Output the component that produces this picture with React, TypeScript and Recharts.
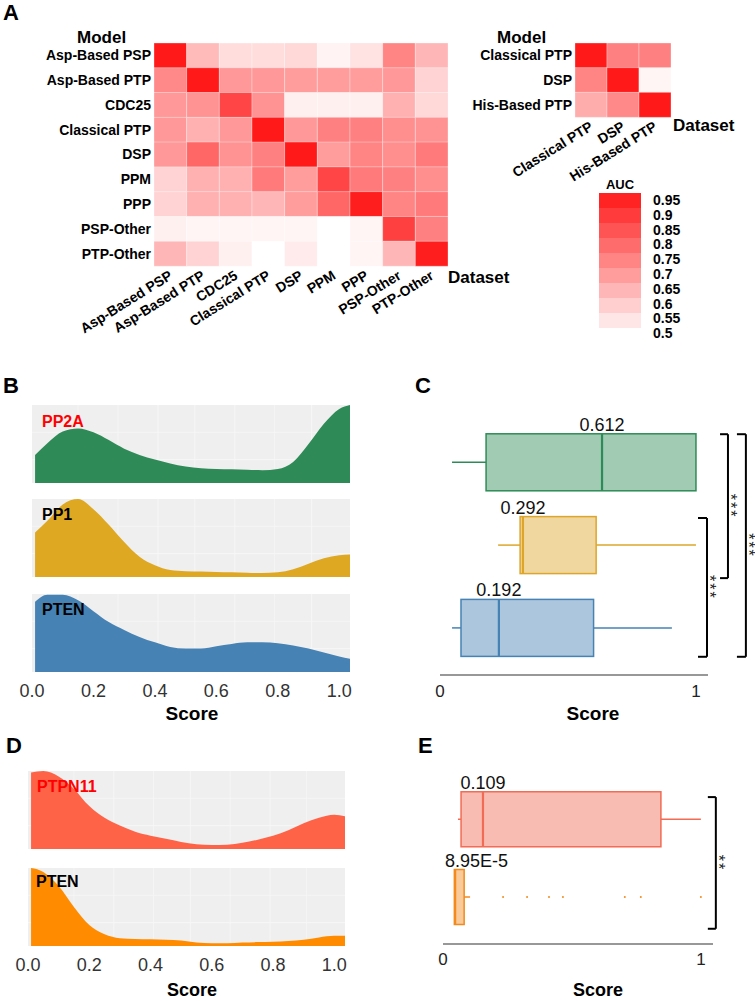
import React from "react";
import {
  BarChart,
  Bar,
  Cell,
  XAxis,
  YAxis,
  AreaChart,
  Area,
  CartesianGrid,
  ComposedChart,
  ReferenceLine,
} from "recharts";

const FONT = '"Liberation Sans", Arial, Helvetica, sans-serif';

// ---- panel A: cross-dataset AUC heatmaps
const modelsA = [
  "Asp-Based PSP",
  "Asp-Based PTP",
  "CDC25",
  "Classical PTP",
  "DSP",
  "PPM",
  "PPP",
  "PSP-Other",
  "PTP-Other",
];
const datasetsA = modelsA;
const aucA = [
  [0.97, 0.64, 0.57, 0.57, 0.58, 0.525, 0.56, 0.75, 0.65],
  [0.74, 0.97, 0.71, 0.71, 0.7, 0.7, 0.7, 0.71, 0.59],
  [0.71, 0.72, 0.88, 0.72, 0.53, 0.53, 0.53, 0.66, 0.58],
  [0.71, 0.66, 0.71, 0.97, 0.71, 0.76, 0.76, 0.73, 0.72],
  [0.71, 0.81, 0.72, 0.76, 0.97, 0.7, 0.75, 0.73, 0.77],
  [0.59, 0.66, 0.66, 0.77, 0.7, 0.88, 0.77, 0.76, 0.73],
  [0.59, 0.66, 0.66, 0.65, 0.7, 0.81, 0.96, 0.75, 0.77],
  [0.53, 0.52, 0.52, 0.52, 0.52, 0.5, 0.52, 0.89, 0.76],
  [0.65, 0.59, 0.53, 0.5, 0.54, 0.5, 0.52, 0.65, 0.96],
];
const modelsA2 = ["Classical PTP", "DSP", "His-Based PTP"];
const aucA2 = [
  [0.97, 0.76, 0.76],
  [0.75, 0.97, 0.52],
  [0.67, 0.74, 0.97],
];
const legendBlocks = [0.95, 0.9, 0.85, 0.8, 0.75, 0.7, 0.65, 0.6, 0.55];
const legendLabels = ["0.95", "0.9", "0.85", "0.8", "0.75", "0.7", "0.65", "0.6", "0.55", "0.5"];

// ---- panels B / D: score densities (scaled to panel height)
const scoreGrid = [0.01, 0.05, 0.1, 0.15, 0.2, 0.25, 0.3, 0.35, 0.4, 0.45, 0.5, 0.55, 0.6, 0.65, 0.7, 0.75, 0.8, 0.85, 0.9, 0.95, 1.0, 1.035];
const densPP2A = [0.36, 0.51, 0.66, 0.7, 0.65, 0.55, 0.44, 0.36, 0.3, 0.25, 0.21, 0.19, 0.18, 0.175, 0.17, 0.165, 0.18, 0.27, 0.5, 0.76, 0.95, 1.0];
const densPP1 = [0.57, 0.72, 0.93, 1.0, 0.87, 0.67, 0.45, 0.26, 0.15, 0.09, 0.075, 0.07, 0.065, 0.06, 0.055, 0.05, 0.06, 0.1, 0.17, 0.24, 0.28, 0.29];
const densPTENB = [0.9, 0.99, 0.99, 0.92, 0.78, 0.64, 0.54, 0.45, 0.38, 0.32, 0.3, 0.3, 0.33, 0.36, 0.38, 0.38, 0.37, 0.34, 0.3, 0.25, 0.2, 0.17];
const densPTPN11 = [0.98, 1.0, 0.93, 0.77, 0.55, 0.4, 0.3, 0.22, 0.17, 0.13, 0.09, 0.06, 0.05, 0.055, 0.08, 0.12, 0.17, 0.24, 0.33, 0.4, 0.44, 0.42];
const densPTEND = [1.0, 0.95, 0.77, 0.5, 0.27, 0.15, 0.1, 0.09, 0.085, 0.08, 0.07, 0.045, 0.035, 0.035, 0.045, 0.05, 0.055, 0.065, 0.08, 0.11, 0.13, 0.13];
const scoreTicks = [0, 0.2, 0.4, 0.6, 0.8, 1.0];
const ridgeGridX = [0.15, 0.28, 0.41, 0.53, 0.66, 0.79, 0.91];

// ---- panel C: boxplots (row 1 = top)
const groupsC = ["PP2A", "PP1", "PTEN"];
const posC = [1, 2, 3];
const minC = [0.047, 0.227, 0.047];
const q1C = [0.18, 0.313, 0.082];
const medianC = [0.633, 0.324, 0.23];
const q3C = [1.0, 0.61, 0.6];
const maxC = [1.0, 1.0, 0.906];
const medianLabelC = ["0.612", "0.292", "0.192"];
const strokeC = ["#2E8B57", "#DDA62A", "#4682B4"];

// ---- panel E: boxplots
const groupsE = ["PTPN11", "PTEN"];
const posE = [1, 2];
const minE = [0.058, 0.044];
const q1E = [0.07, 0.044];
const medianE = [0.155, 0.047];
const q3E = [0.845, 0.082];
const maxE = [1.0, 0.105];
const outliersE = [[], [0.233, 0.326, 0.411, 0.465, 0.705, 0.767, 1.0]];
const medianLabelE = ["0.109", "8.95E-5"];
const strokeE = ["#F26B55", "#F28A1E"];

// significance brackets (data units)
const bracketsC = [
  { x: 1.043, tick: 1.008, y1: 1.674, y2: 3.35, text: "***" },
  { x: 1.125, tick: 1.094, y1: 0.662, y2: 2.4, text: "***" },
  { x: 1.195, tick: 1.16, y1: 0.662, y2: 3.35, text: "***" },
];
const bracketsE = [{ x: 1.058, tick: 1.027, y1: 0.71, y2: 2.404, text: "**" }];

function aucColor(v: number) {
  const t = Math.max(0, Math.min(1, (v - 0.5) / 0.5));
  const g = Math.round(255 - t * 245);
  return `rgb(255,${g},${g})`;
}

const ColTick = (props: any) => {
  const { x, y, payload, cols } = props;
  const label = cols[Math.floor(payload.value)];
  return (
    <g transform={`translate(${x + 3},${y + 12})`}>
      <text textAnchor="end" transform="rotate(-32)" fontSize={14} fontWeight={700} fill="#000">
        {label}
      </text>
    </g>
  );
};

function Heatmap(props: any) {
  const { rows, cols, values, left, top, width, height, margin, yWidth } = props;
  const data = rows.map((r: string) => {
    const o: any = { model: r };
    cols.forEach((_: string, j: number) => (o["c" + j] = 1));
    return o;
  });
  const ticks = cols.map((_: string, j: number) => j + 0.5);
  return (
    <div style={{ position: "absolute", left, top }}>
      <BarChart width={width} height={height} data={data} layout="vertical" margin={margin} barCategoryGap={0}>
        <XAxis
          type="number"
          domain={[0, cols.length]}
          ticks={ticks}
          interval={0}
          axisLine={false}
          tickLine={false}
          tickSize={0}
          tickMargin={0}
          height={60}
          tick={<ColTick cols={cols} />}
        />
        <YAxis
          type="category"
          dataKey="model"
          width={yWidth}
          axisLine={false}
          tickLine={false}
          tickSize={0}
          tickMargin={3}
          interval={0}
          tick={{ fill: "#000", fontSize: 14, fontWeight: 700 }}
        />
        {cols.map((c: string, j: number) => (
          <Bar
            key={c}
            dataKey={"c" + j}
            stackId="h"
            isAnimationActive={false}
            stroke="#ffffff"
            strokeOpacity={0.5}
            strokeWidth={0.6}
          >
            {rows.map((r: string, i: number) => (
              <Cell key={r} fill={aucColor(values[i][j])} />
            ))}
          </Bar>
        ))}
      </BarChart>
    </div>
  );
}

const ridgeData = scoreGrid.map((s, i) => ({
  score: s,
  pp2a: densPP2A[i],
  pp1: densPP1[i],
  ptenB: densPTENB[i],
  ptpn11: densPTPN11[i],
  ptenD: densPTEND[i],
}));

function Ridge(props: any) {
  const { dataKey, color, left, top, width, marginLeft, marginRight, showAxis } = props;
  const plotH = 78;
  return (
    <div style={{ position: "absolute", left, top }}>
      <AreaChart
        width={width}
        height={plotH + (showAxis ? 34 : 0)}
        data={ridgeData}
        margin={{ top: 0, right: marginRight, bottom: 0, left: marginLeft }}
      >
        <CartesianGrid
          fill="#EFEFEF"
          fillOpacity={1}
          stroke="#F8F8F8"
          strokeWidth={0.8}
          verticalValues={ridgeGridX}
          horizontalValues={[0.3, 0.65]}
        />
        <XAxis
          type="number"
          dataKey="score"
          domain={[0, scoreGrid[scoreGrid.length - 1]]}
          ticks={scoreTicks}
          hide={!showAxis}
          height={34}
          axisLine={false}
          tickLine={false}
          tickSize={0}
          tickMargin={12}
          tickFormatter={(v: number) => v.toFixed(1)}
          tick={{ fill: "#333", fontSize: 18 }}
          allowDataOverflow
        />
        <YAxis hide domain={[0, 1]} />
        <Area
          type="monotone"
          dataKey={dataKey}
          stroke="none"
          fill={color}
          fillOpacity={1}
          isAnimationActive={false}
          dot={false}
          activeDot={false}
        />
      </AreaChart>
    </div>
  );
}

const BoxShape = (props: any) => {
  const { x, y, width, height, payload } = props;
  const p = payload;
  const k = width / (p.q3 - p.q1);
  const px = (v: number) => x + (v - p.q1) * k;
  const cy = y + height / 2;
  const estW = p.label.length * 9;
  const labelX = Math.max(px(p.median), px(0) + 2 + estW / 2);
  return (
    <g>
      <line x1={px(p.min)} x2={x} y1={cy} y2={cy} stroke={p.stroke} strokeWidth={1.5} />
      <line x1={x + width} x2={px(p.max)} y1={cy} y2={cy} stroke={p.stroke} strokeWidth={1.5} />
      <rect x={x} y={y} width={width} height={height} fill={p.stroke} fillOpacity={0.45} stroke={p.stroke} strokeWidth={1.5} />
      <line x1={px(p.median)} x2={px(p.median)} y1={y} y2={y + height} stroke={p.stroke} strokeWidth={2.2} />
      {p.outliers.map((o: number, i: number) => (
        <circle key={i} cx={px(o)} cy={cy} r={1} fill={p.stroke} />
      ))}
      <text x={labelX} y={y - 3} textAnchor="middle" fontSize={18} fill="#111">
        {p.label}
      </text>
    </g>
  );
};

const StarLabel = (props: any) => {
  const { viewBox, text } = props;
  const cx = viewBox.x - 3;
  const cy = viewBox.y + viewBox.height / 2;
  return (
    <text
      transform={`translate(${cx},${cy}) rotate(90)`}
      textAnchor="middle"
      fontSize={16}
      letterSpacing={2}
      style={{ fill: "#222" }}
    >
      {text}
    </text>
  );
};

function BoxPanel(props: any) {
  const { rows, left, top, width, height, margin, xMax, yDomain, barSize, brackets, tickMargin } = props;
  const axisStyle = { stroke: "#333", strokeWidth: 1.2 };
  return (
    <div style={{ position: "absolute", left, top }}>
      <ComposedChart width={width} height={height} data={rows} layout="vertical" margin={margin}>
        <XAxis
          type="number"
          domain={[0, xMax]}
          ticks={[0, 1]}
          allowDataOverflow
          height={30}
          tickLine={false}
          tickSize={0}
          tickMargin={tickMargin}
          axisLine={axisStyle}
          tick={{ fill: "#222", fontSize: 17 }}
        />
        <YAxis
          type="number"
          dataKey="pos"
          domain={yDomain}
          allowDataOverflow
          width={0}
          tick={false}
          tickLine={false}
          axisLine={axisStyle}
        />
        <Bar dataKey={(d: any) => [d.q1, d.q3]} barSize={barSize} shape={BoxShape} isAnimationActive={false} />
        {brackets.map((b: any, i: number) => (
          <ReferenceLine
            key={"v" + i}
            segment={[
              { x: b.x, y: b.y1 },
              { x: b.x, y: b.y2 },
            ]}
            stroke="#000"
            strokeWidth={2}
            ifOverflow="visible"
            label={<StarLabel text={b.text} />}
          />
        ))}
        {brackets.map((b: any, i: number) => (
          <ReferenceLine
            key={"t" + i}
            segment={[
              { x: b.tick, y: b.y1 },
              { x: b.x, y: b.y1 },
            ]}
            stroke="#000"
            strokeWidth={2}
            ifOverflow="visible"
          />
        ))}
        {brackets.map((b: any, i: number) => (
          <ReferenceLine
            key={"b" + i}
            segment={[
              { x: b.tick, y: b.y2 },
              { x: b.x, y: b.y2 },
            ]}
            stroke="#000"
            strokeWidth={2}
            ifOverflow="visible"
          />
        ))}
      </ComposedChart>
    </div>
  );
}

const rowsC = groupsC.map((g, i) => ({
  group: g,
  pos: posC[i],
  min: minC[i],
  q1: q1C[i],
  median: medianC[i],
  q3: q3C[i],
  max: maxC[i],
  label: medianLabelC[i],
  stroke: strokeC[i],
  outliers: [] as number[],
}));

const rowsE = groupsE.map((g, i) => ({
  group: g,
  pos: posE[i],
  min: minE[i],
  q1: q1E[i],
  median: medianE[i],
  q3: q3E[i],
  max: maxE[i],
  label: medianLabelE[i],
  stroke: strokeE[i],
  outliers: outliersE[i],
}));

function T(props: any) {
  const { x, y, size, bold = true, fill = "#000", anchor = "start", children } = props;
  return (
    <text x={x} y={y} fontSize={size} fontWeight={bold ? 700 : 400} fill={fill} textAnchor={anchor}>
      {children}
    </text>
  );
}

export default function App() {
  return (
    <div
      style={{
        position: "absolute",
        left: 0,
        top: 0,
        width: 755,
        height: 1001,
        background: "#fff",
        fontFamily: FONT,
        overflow: "hidden",
      }}
    >
      <Heatmap
        rows={modelsA}
        cols={datasetsA}
        values={aucA}
        left={0}
        top={0}
        width={520}
        height={340}
        margin={{ top: 43, right: 72, bottom: 14, left: 4 }}
        yWidth={150}
      />
      <Heatmap
        rows={modelsA2}
        cols={modelsA2}
        values={aucA2}
        left={440}
        top={0}
        width={300}
        height={190}
        margin={{ top: 43, right: 69, bottom: 13, left: 5 }}
        yWidth={130}
      />

      <Ridge dataKey="pp2a" color="#2E8B57" left={0} top={405} width={360} marginLeft={32} marginRight={10} />
      <Ridge dataKey="pp1" color="#DFA823" left={0} top={499} width={360} marginLeft={32} marginRight={10} />
      <Ridge dataKey="ptenB" color="#4682B4" left={0} top={594} width={360} marginLeft={32} marginRight={10} showAxis />

      <Ridge dataKey="ptpn11" color="#FF6347" left={0} top={771} width={360} marginLeft={28} marginRight={15} />
      <Ridge dataKey="ptenD" color="#FF8C00" left={0} top={868} width={360} marginLeft={28} marginRight={15} showAxis />

      <BoxPanel
        rows={rowsC}
        left={380}
        top={400}
        width={375}
        height={330}
        margin={{ top: 15, right: 47, bottom: 25, left: 60 }}
        xMax={1.047}
        yDomain={[0.43, 3.57]}
        barSize={57}
        brackets={bracketsC}
        tickMargin={10}
      />
      <BoxPanel
        rows={rowsE}
        left={380}
        top={760}
        width={375}
        height={240}
        margin={{ top: 13, right: 42, bottom: 26, left: 63 }}
        xMax={1.047}
        yDomain={[0.4, 2.6]}
        barSize={55}
        brackets={bracketsE}
        tickMargin={9}
      />

      <svg
        width={755}
        height={1001}
        style={{ position: "absolute", left: 0, top: 0, pointerEvents: "none", fontFamily: FONT }}
      >
        <T x={3} y={20} size={22}>A</T>
        <T x={77} y={43} size={17}>Model</T>
        <T x={448} y={283} size={17}>Dataset</T>
        <T x={497} y={43} size={17}>Model</T>
        <T x={673} y={131} size={17}>Dataset</T>

        <T x={620} y={189} size={13} anchor="middle">AUC</T>
        {legendBlocks.map((v, i) => (
          <rect key={i} x={599} y={193 + i * 15} width={42} height={15} fill={aucColor(v)} />
        ))}
        {legendLabels.map((l, i) => (
          <T key={l} x={653} y={205 + i * 14.8} size={14}>{l}</T>
        ))}

        <T x={3} y={393} size={22}>B</T>
        <T x={415} y={393} size={22}>C</T>
        <T x={42} y={427} size={16} fill="#FF0000">PP2A</T>
        <T x={42} y={520} size={16}>PP1</T>
        <T x={42} y={615} size={16}>PTEN</T>
        <T x={192} y={720} size={19} anchor="middle">Score</T>
        <T x={593} y={720} size={19} anchor="middle">Score</T>

        <T x={6} y={753} size={22}>D</T>
        <T x={418} y={753} size={22}>E</T>
        <T x={37} y={792} size={16} fill="#FF0000">PTPN11</T>
        <T x={36} y={887} size={16}>PTEN</T>
        <T x={192} y={996} size={18} anchor="middle">Score</T>
        <T x={598} y={996} size={18} anchor="middle">Score</T>
      </svg>
    </div>
  );
}
